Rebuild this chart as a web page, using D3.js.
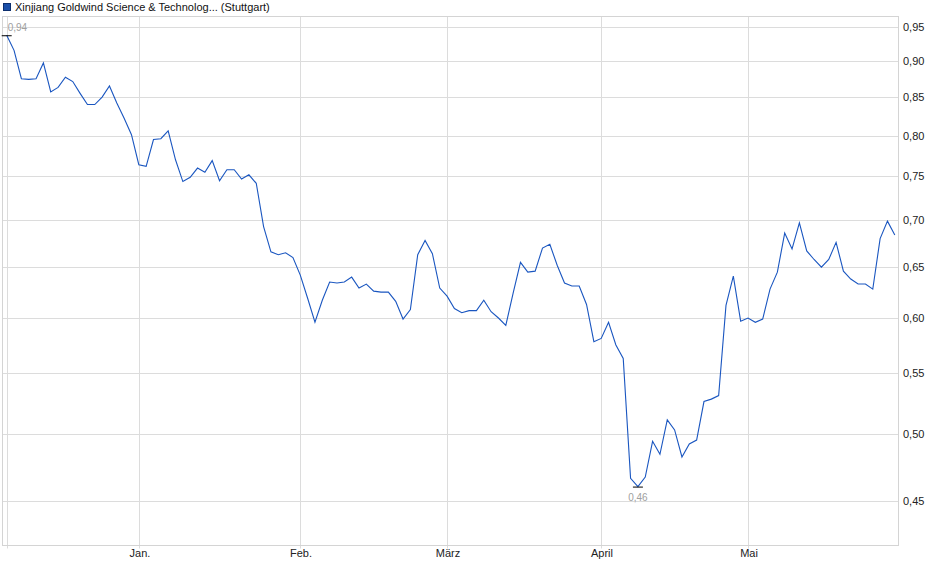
<!DOCTYPE html>
<html>
<head>
<meta charset="utf-8">
<script src="https://cdn.jsdelivr.net/npm/d3@7"></script>
<style>
  body { margin: 0; background: #fff; }
  svg { display: block; font-family: "Liberation Sans", Arial, sans-serif; }
</style>
</head>
<body>
<svg id="chart" width="940" height="579"></svg>
<script>
const title = "Xinjiang Goldwind Science & Technolog... (Stuttgart)";

// closing prices, one per trading day
const closes = [
  0.937, 0.915, 0.875, 0.874, 0.875, 0.897, 0.857, 0.863, 0.877, 0.871,
  0.855, 0.840, 0.840, 0.850, 0.865, 0.842, 0.822, 0.801, 0.764, 0.762,
  0.795, 0.796, 0.806, 0.770, 0.744, 0.749, 0.760, 0.755, 0.769, 0.745,
  0.758, 0.758, 0.747, 0.752, 0.742, 0.693, 0.666, 0.663, 0.665, 0.660,
  0.642, 0.619, 0.596, 0.617, 0.635, 0.634, 0.635, 0.640, 0.629, 0.633,
  0.626, 0.625, 0.625, 0.616, 0.599, 0.608, 0.663, 0.678, 0.664, 0.629,
  0.621, 0.609, 0.605, 0.607, 0.607, 0.617, 0.606, 0.600, 0.593, 0.624,
  0.655, 0.645, 0.646, 0.670, 0.674, 0.652, 0.634, 0.631, 0.631, 0.613,
  0.578, 0.581, 0.596, 0.575, 0.563, 0.466, 0.460, 0.467, 0.494, 0.484,
  0.511, 0.503, 0.482, 0.492, 0.495, 0.526, 0.528, 0.531, 0.612, 0.641,
  0.597, 0.600, 0.596, 0.599, 0.628, 0.645, 0.686, 0.669, 0.697, 0.667,
  0.658, 0.650, 0.658, 0.676, 0.646, 0.638, 0.633, 0.633, 0.628, 0.680,
  0.699, 0.684
];

// index of first trading day of each month
const monthIdx = [0, 18, 40, 60, 81, 101];
const monthLabels = ["", "Jan.", "Feb.", "März", "April", "Mai"];

const yTicks = [0.45, 0.50, 0.55, 0.60, 0.65, 0.70, 0.75, 0.80, 0.85, 0.90, 0.95];

const frame = { left: 2.5, right: 898.5, top: 16.5, bottom: 545.5 };

const svg = d3.select("#chart");

const x = d3.scaleLinear()
  .domain([0, closes.length - 1])
  .range([6.7, 894.8]);

const y = d3.scaleLog()
  .domain([0.4192, 0.9651])
  .range([frame.bottom, frame.top]);

const de = d3.formatLocale({ decimal: ",", thousands: ".", grouping: [3], currency: ["", " €"] });
const fmt = de.format(".2f");

// grid
const grid = svg.append("g").attr("class", "grid");
grid.selectAll("line.h")
  .data(yTicks)
  .enter()
  .append("line")
  .attr("class", "h")
  .attr("x1", frame.left)
  .attr("x2", frame.right)
  .attr("y1", (d) => Math.round(y(d)) + 0.5)
  .attr("y2", (d) => Math.round(y(d)) + 0.5)
  .attr("stroke", "#dcdcdc");

grid.selectAll("line.v")
  .data(monthIdx)
  .enter()
  .append("line")
  .attr("class", "v")
  .attr("x1", (d) => Math.round(x(d)) + 0.5)
  .attr("x2", (d) => Math.round(x(d)) + 0.5)
  .attr("y1", frame.top)
  .attr("y2", frame.bottom + 3)
  .attr("stroke", "#dcdcdc");

// frame
svg.append("rect")
  .attr("x", frame.left)
  .attr("y", frame.top)
  .attr("width", frame.right - frame.left)
  .attr("height", frame.bottom - frame.top)
  .attr("fill", "none")
  .attr("stroke", "#d4d4d4");

// y labels (right)
svg.append("g")
  .selectAll("text")
  .data(yTicks)
  .enter()
  .append("text")
  .attr("x", 903)
  .attr("y", (d) => y(d) + 4)
  .style("font-size", "11px")
  .style("fill", "#222")
  .text((d) => fmt(d));

// x labels
svg.append("g")
  .selectAll("text")
  .data(monthIdx)
  .enter()
  .append("text")
  .attr("x", (d) => Math.round(x(d)) + 1)
  .attr("y", 557)
  .attr("text-anchor", "middle")
  .style("font-size", "11px")
  .style("fill", "#222")
  .text((d, i) => monthLabels[i]);

// price line
const line = d3.line()
  .x((d, i) => x(i))
  .y((d) => y(d));

svg.append("path")
  .datum(closes)
  .attr("d", line)
  .attr("fill", "none")
  .attr("stroke", "#1a56c0")
  .attr("stroke-width", 1.1);

// high / low markers
const hiIdx = d3.maxIndex(closes);
const loIdx = d3.minIndex(closes);

svg.append("line")
  .attr("x1", x(hiIdx) - 5)
  .attr("x2", x(hiIdx) + 5)
  .attr("y1", y(closes[hiIdx]) + 0.5)
  .attr("y2", y(closes[hiIdx]) + 0.5)
  .attr("stroke", "#000");
svg.append("text")
  .attr("x", x(hiIdx) + 1)
  .attr("y", y(closes[hiIdx]) - 4)
  .style("font-size", "10px")
  .style("fill", "#a0a0a0")
  .text(fmt(closes[hiIdx]));

svg.append("line")
  .attr("x1", x(loIdx) - 5)
  .attr("x2", x(loIdx) + 5)
  .attr("y1", y(closes[loIdx]) + 0.5)
  .attr("y2", y(closes[loIdx]) + 0.5)
  .attr("stroke", "#000");
svg.append("text")
  .attr("x", x(loIdx))
  .attr("y", y(closes[loIdx]) + 14)
  .attr("text-anchor", "middle")
  .style("font-size", "10px")
  .style("fill", "#a0a0a0")
  .text(fmt(closes[loIdx]));

// legend / title
svg.append("rect")
  .attr("x", 3.5)
  .attr("y", 3.5)
  .attr("width", 7)
  .attr("height", 7)
  .attr("fill", "#1a4fa8")
  .attr("stroke", "#0d2f6e");
svg.append("text")
  .attr("x", 15)
  .attr("y", 11)
  .style("font-size", "11px")
  .style("fill", "#111")
  .text(title);
</script>
</body>
</html>
